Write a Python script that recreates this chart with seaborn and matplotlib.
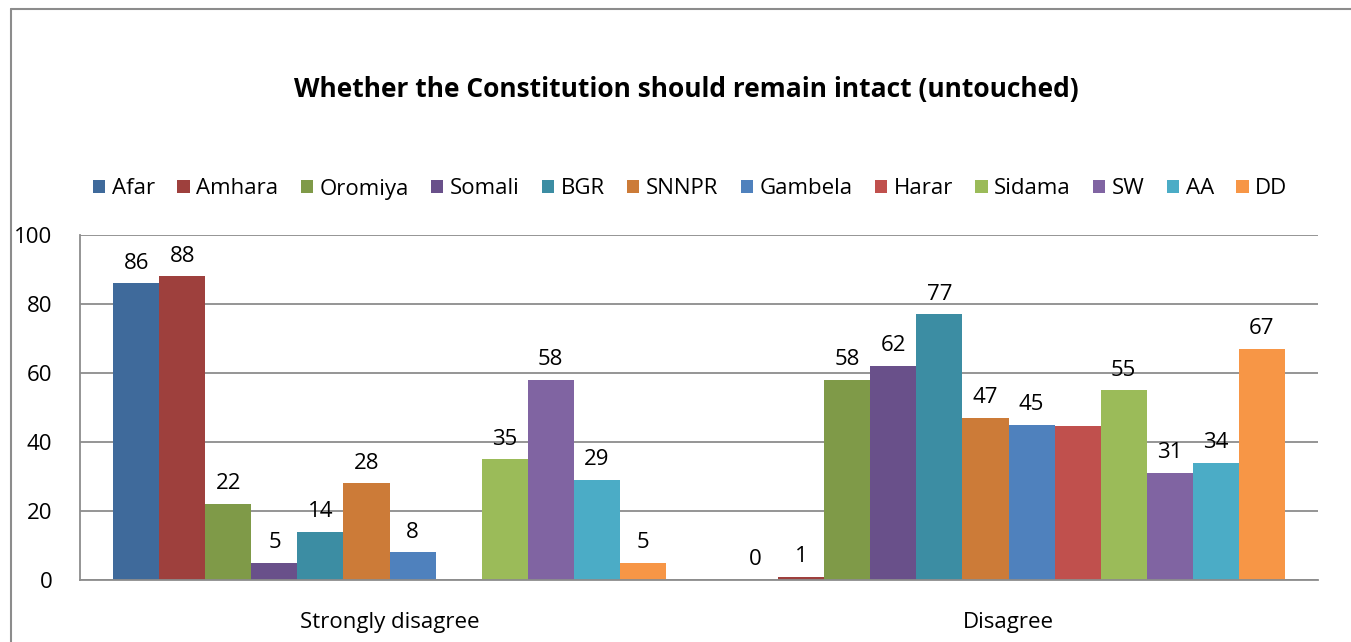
import numpy as np
import pandas as pd
import matplotlib
matplotlib.use("Agg")
import matplotlib.pyplot as plt
from matplotlib.lines import Line2D
import seaborn as sns

categories = ["Strongly disagree", "Disagree"]
regions = ["Afar", "Amhara", "Oromiya", "Somali", "BGR", "SNNPR",
           "Gambela", "Harar", "Sidama", "SW", "AA", "DD"]
strongly_disagree = [86, 88, 22, 5, 14, 28, 8, np.nan, 35, 58, 29, 5]
disagree = [0, 1, 58, 62, 77, 47, 45, 44.5, 55, 31, 34, 67]
labelled = [True, True, True, True, True, True, True, False, True, True, True, True]
colors = ["#3F6A9B", "#9E403D", "#7F9A48", "#69508A", "#3C8DA3", "#CC7B38",
          "#4F81BD", "#C0504D", "#9BBB59", "#8064A2", "#4BACC6", "#F79646"]

rows = []
for r, a, b in zip(regions, strongly_disagree, disagree):
    rows.append({"Category": categories[0], "Region": r, "Value": a})
    rows.append({"Category": categories[1], "Region": r, "Value": b})
df = pd.DataFrame(rows)

sns.set_style("white")
plt.rcParams["font.family"] = ["Open Sans", "DejaVu Sans"]
plt.rcParams["text.color"] = "black"

fig = plt.figure(figsize=(13.51, 6.42), dpi=100)
ax = fig.add_axes([80 / 1351, 1 - 580 / 642, (1318 - 80) / 1351, (580 - 235) / 642])

sns.barplot(data=df, x="Category", y="Value", hue="Region", order=categories,
            hue_order=regions, palette=colors, width=0.892, gap=0,
            errorbar=None, ax=ax, legend=True, saturation=1, linewidth=0)

for cont, lab in zip(ax.containers, labelled):
    if lab:
        vals = [f"{v:.0f}" if not np.isnan(v) else "" for v in cont.datavalues]
        ax.bar_label(cont, labels=vals, padding=7, fontsize=16, color="#000000")

ax.set_ylim(0, 100)
ax.set_xlim(-0.5, 1.5)
ax.set_yticks([0, 20, 40, 60, 80, 100])
ax.yaxis.grid(True, color="#8C8C8C", linewidth=1.3)
ax.set_axisbelow(True)
ax.set_xlabel("")
ax.set_ylabel("")
for s in ["top", "right"]:
    ax.spines[s].set_visible(False)
ax.spines["left"].set_color("#8C8C8C")
ax.spines["left"].set_linewidth(1.3)
ax.spines["bottom"].set_color("#8C8C8C")
ax.spines["bottom"].set_linewidth(1.3)
ax.tick_params(axis="y", labelsize=16, length=0, pad=20, colors="#000000")
ax.tick_params(axis="x", labelsize=16, length=0, pad=23, colors="#000000")

handles, labels = ax.get_legend_handles_labels()
ax.get_legend().remove()
leg = fig.legend(handles, labels, loc="center", bbox_to_anchor=(0.511, 1 - 189 / 642),
                 ncol=12, frameon=False, fontsize=16, handlelength=0.55, handleheight=0.55,
                 handletextpad=0.3, columnspacing=1.0)
for t in leg.get_texts():
    t.set_color("black")

fig.text(0.508, 1 - 89 / 642, "Whether the Constitution should remain intact (untouched)",
         ha="center", va="center", fontsize=19, fontweight="bold", color="black")

fig.add_artist(Line2D([11 / 1351, 11 / 1351], [0, 1 - 9 / 642], color="#8C8C8C",
                      linewidth=1.5, transform=fig.transFigure))
fig.add_artist(Line2D([11 / 1351, 1], [1 - 9 / 642, 1 - 9 / 642], color="#8C8C8C",
                      linewidth=1.5, transform=fig.transFigure))

fig.savefig("out.png", dpi=100, facecolor="white")
